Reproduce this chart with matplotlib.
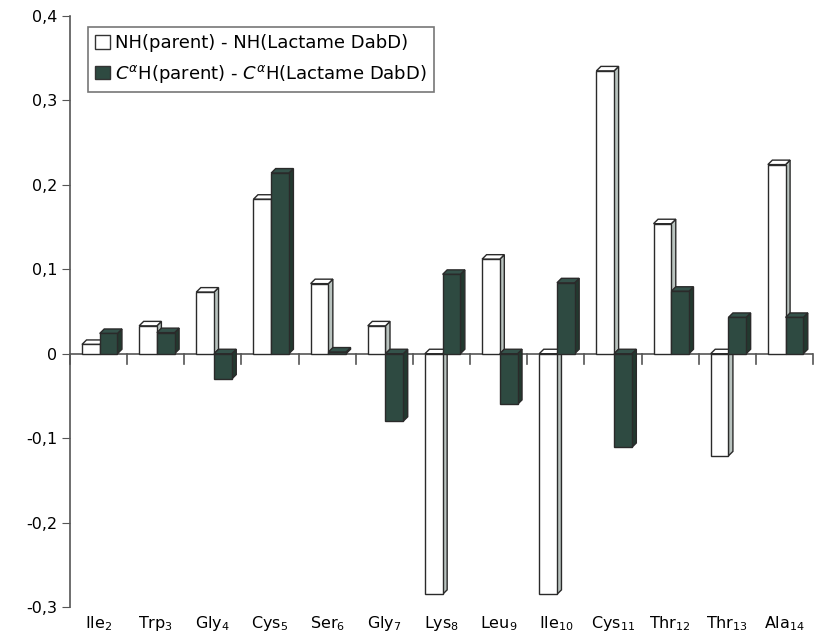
import matplotlib
matplotlib.use("Agg")
import matplotlib.pyplot as plt
from matplotlib.patches import Polygon, Patch
import numpy as np

categories = ["Ile$_{2}$", "Trp$_{3}$", "Gly$_{4}$", "Cys$_{5}$", "Ser$_{6}$", "Gly$_{7}$",
              "Lys$_{8}$", "Leu$_{9}$", "Ile$_{10}$", "Cys$_{11}$", "Thr$_{12}$", "Thr$_{13}$", "Ala$_{14}$"]
nh_values = [0.011, 0.033, 0.073, 0.183, 0.083, 0.033, -0.285, 0.112, -0.285, 0.335, 0.154, -0.121, 0.224]
ca_values = [0.024, 0.025, -0.030, 0.214, 0.002, -0.080, 0.094, -0.060, 0.084, -0.111, 0.074, 0.043, 0.043]
series_labels = ["NH(parent) - NH(Lactame DabD)",
                 r"$C^{\alpha}$H(parent) - $C^{\alpha}$H(Lactame DabD)"]
yticks = [-0.3, -0.2, -0.1, 0, 0.1, 0.2, 0.3, 0.4]
ytick_labels = ["-0,3", "-0,2", "-0,1", "0", "0,1", "0,2", "0,3", "0,4"]

plt.rcParams['font.family'] = ['DejaVu Sans']

fig = plt.figure(figsize=(8.28, 6.41), dpi=100)
ax = fig.add_axes([70/828, 1-607/641, 743/828, 591/641])
ax.set_xlim(-0.5, len(categories) - 0.5)
ax.set_ylim(-0.3, 0.4)

# 3D depth (data units)
ddx = 0.079
ddy = 0.0053
bw = 0.31
edge = "#2a2a2a"

styles = [
    dict(front="white", side="#b9c3bf", top="white"),
    dict(front="#2e4a41", side="#22392f", top="#34524a"),
]

def draw_bar(x0, v, st, z):
    x1 = x0 + bw
    lo, hi = min(0, v), max(0, v)
    side = Polygon([(x1, lo), (x1 + ddx, lo + ddy), (x1 + ddx, hi + ddy), (x1, hi)],
                   closed=True, facecolor=st["side"], edgecolor=edge, lw=1.0, zorder=z)
    top = Polygon([(x0, hi), (x0 + ddx, hi + ddy), (x1 + ddx, hi + ddy), (x1, hi)],
                  closed=True, facecolor=st["top"], edgecolor=edge, lw=1.0, zorder=z)
    ax.add_patch(side)
    ax.add_patch(top)
    ax.bar(x0, v, width=bw, align="edge", color=st["front"], edgecolor=edge,
           linewidth=1.0, zorder=z + 0.1)

xs = np.arange(len(categories))
for i, c in enumerate(xs):
    draw_bar(c - 0.29, nh_values[i], styles[0], 3 + i * 0.5)
    draw_bar(c + 0.02, ca_values[i], styles[1], 3.25 + i * 0.5)

# axes styling
for s in ["top", "right", "bottom"]:
    ax.spines[s].set_visible(False)
ax.spines["left"].set_color("#555555")
ax.spines["left"].set_linewidth(1.2)
ax.axhline(0, color="#555555", lw=1.2, zorder=1)
ax.set_yticks(yticks)
ax.set_yticklabels(ytick_labels, fontsize=11.5)
ax.tick_params(axis="y", direction="out", length=6, color="#555555", pad=3)

# x ticks at category boundaries on the zero line
ax.set_xticks([])
for b in np.arange(len(categories) + 1) - 0.5:
    ax.plot([b, b], [0, -0.012], color="#555555", lw=1.2, zorder=1, clip_on=False)

for c, lab in zip(xs, categories):
    ax.text(c, -0.012, lab, transform=ax.get_xaxis_transform(), ha="center", va="top", fontsize=11.5)

handles = [Patch(facecolor="white", edgecolor="#333333"),
           Patch(facecolor="#2e4a41", edgecolor="#333333")]
leg = ax.legend(handles, series_labels, loc="upper left", bbox_to_anchor=(0.012, 0.997),
                fontsize=13, frameon=True, fancybox=False, edgecolor="#555555",
                handlelength=0.8, handleheight=0.8, handletextpad=0.3, labelspacing=0.6,
                borderpad=0.4)
leg.get_frame().set_linewidth(1.2)

fig.savefig("out.png", dpi=100)
